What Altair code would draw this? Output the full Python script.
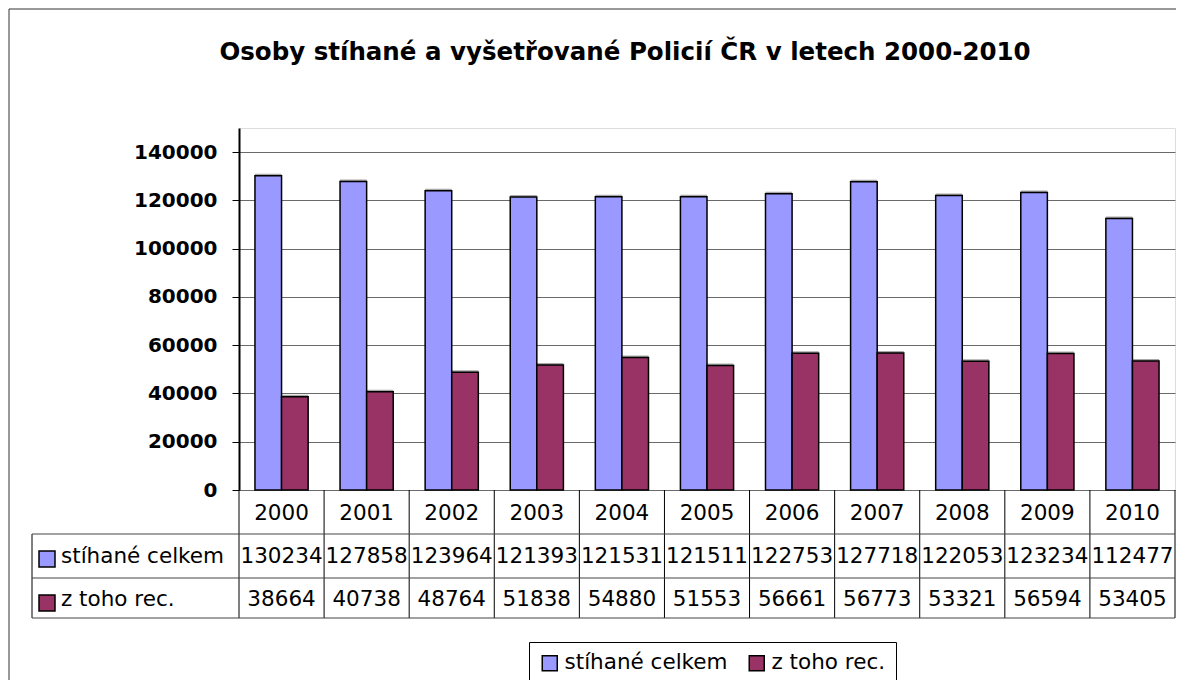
import altair as alt
import pandas as pd

# ---- data ----
title_text = "Osoby stíhané a vyšetřované Policií ČR v letech 2000-2010"
years = ["2000", "2001", "2002", "2003", "2004", "2005", "2006", "2007", "2008", "2009", "2010"]
series_names = ["stíhané celkem", "z toho rec."]
stihane = [130234, 127858, 123964, 121393, 121531, 121511, 122753, 127718, 122053, 123234, 112477]
rec = [38664, 40738, 48764, 51838, 54880, 51553, 56661, 56773, 53321, 56594, 53405]
series_values = [stihane, rec]
y_ticks = [0, 20000, 40000, 60000, 80000, 100000, 120000, 140000]
colors = ["#9999FF", "#993366"]

FONT = "DejaVu Sans"
W, H = 936, 362

long_rows = []
for s, vals in zip(series_names, series_values):
    for yr, v in zip(years, vals):
        long_rows.append({"year": yr, "series": s, "value": v})
df = pd.DataFrame(long_rows)
df_years = pd.DataFrame({"year": years})

x_enc = alt.X("year:N", sort=years, axis=None,
              scale=alt.Scale(paddingInner=0, paddingOuter=0))
xoff_enc = alt.XOffset("series:N", sort=series_names,
                       scale=alt.Scale(paddingInner=0, paddingOuter=0.6))
color_scale = alt.Scale(domain=series_names, range=colors)

y_enc = alt.Y("value:Q",
              scale=alt.Scale(domain=[0, 150000], nice=False, zero=True),
              axis=alt.Axis(values=y_ticks, title=None, format="d",
                            labelFont=FONT, labelFontSize=20, labelFontWeight="bold",
                            labelColor="black", labelPadding=15,
                            tickSize=7, tickColor="black", tickWidth=1,
                            domainColor="black", domainWidth=2,
                            grid=True, gridColor="#6a6a6a", gridWidth=1))

shadow = alt.Chart(df).mark_bar(color="#a8a8a8", xOffset=3, yOffset=-2).encode(
    x=x_enc, xOffset=xoff_enc, y=y_enc)

bars = alt.Chart(df).mark_bar(stroke="black", strokeWidth=1.5).encode(
    x=x_enc, xOffset=xoff_enc, y=y_enc,
    color=alt.Color("series:N", sort=series_names, scale=color_scale,
                    legend=alt.Legend(orient="none", legendX=290, legendY=514,
                                      direction="horizontal", title=None,
                                      symbolType="square", symbolSize=225,
                                      symbolStrokeColor="black", symbolStrokeWidth=1.5,
                                      labelFont=FONT, labelFontSize=21.5, labelColor="black",
                                      labelOffset=4, columnPadding=18, padding=10,
                                      strokeColor="black", fillColor="white",
                                      labelLimit=400)))

layers = [shadow, bars]

# header row (years)
layers.append(alt.Chart(df_years).mark_text(font=FONT, fontSize=21.5, baseline="alphabetic",
                                             align="center", color="black").encode(
    x=x_enc, y=alt.value(392), text="year:N"))

row_baselines = [435, 478]
row_key_y = [431, 475]
for s, vals, yb, yk in zip(series_names, series_values, row_baselines, row_key_y):
    d = pd.DataFrame({"year": years, "value": vals, "series": s})
    layers.append(alt.Chart(d).mark_text(font=FONT, fontSize=21.5, baseline="alphabetic",
                                         align="center", color="black").encode(
        x=x_enc, y=alt.value(yb), text="value:Q"))
    dl = pd.DataFrame({"series": [s]})
    layers.append(alt.Chart(dl).mark_text(font=FONT, fontSize=21.5, baseline="alphabetic",
                                          align="left", color="black").encode(
        x=alt.value(-178), y=alt.value(yb), text="series:N"))
    layers.append(alt.Chart(dl).mark_square(size=256, stroke="black", strokeWidth=1.5,
                                            opacity=1, filled=True).encode(
        x=alt.value(-192), y=alt.value(yk),
        color=alt.Color("series:N", sort=series_names, scale=color_scale)))

# table grid lines
layers.append(alt.Chart(df_years).mark_rule(color="black", strokeWidth=1).encode(
    x=alt.X("year:N", sort=years, axis=None, bandPosition=0,
            scale=alt.Scale(paddingInner=0, paddingOuter=0)),
    y=alt.value(H), y2=alt.value(490)))
layers.append(alt.Chart(df_years.head(1)).mark_rule(color="black", strokeWidth=1).encode(
    x=alt.value(W), y=alt.value(H), y2=alt.value(490)))
layers.append(alt.Chart(df_years.head(1)).mark_rule(color="black", strokeWidth=1).encode(
    x=alt.value(-207), y=alt.value(406), y2=alt.value(490)))
for yy in [406, 450, 490]:
    layers.append(alt.Chart(df_years.head(1)).mark_rule(color="#444444", strokeWidth=1).encode(
        x=alt.value(-207), x2=alt.value(W), y=alt.value(yy)))

# outer chart frame (left and top edges visible)
layers.append(alt.Chart(df_years.head(1)).mark_rule(color="#333333", strokeWidth=1).encode(
    x=alt.value(-230), y=alt.value(-119), y2=alt.value(560)))
layers.append(alt.Chart(df_years.head(1)).mark_rule(color="#333333", strokeWidth=1).encode(
    x=alt.value(-230), x2=alt.value(W + 10), y=alt.value(-119)))

chart = alt.layer(*layers).resolve_scale(x="shared").properties(
    width=W, height=H,
    title=alt.TitleParams(title_text, font=FONT, fontSize=24.5, fontWeight="bold",
                          color="black", anchor="middle", frame="group",
                          dx=-82, offset=-76, baseline="alphabetic"),
    autosize=alt.AutoSizeParams(type="none"),
    padding={"left": 231, "top": 120, "right": 1, "bottom": 190},
).configure_view(stroke="black", strokeWidth=1.5).configure(background="white")

chart.save("out.html", embed_options={"renderer": "svg", "actions": False})
